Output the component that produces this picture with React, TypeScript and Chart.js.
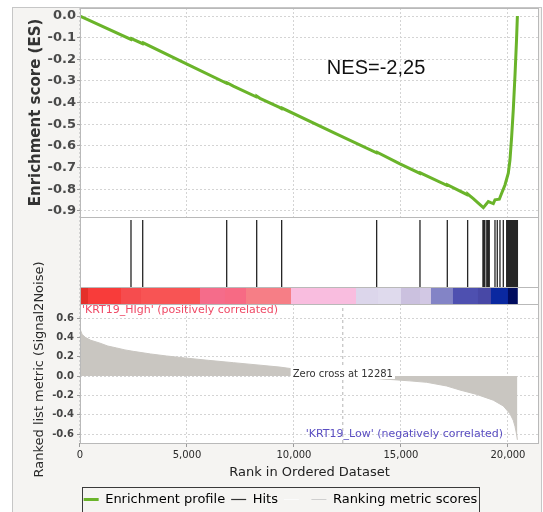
import React, { useEffect, useRef } from 'react';
import { Chart, registerables } from 'chart.js';

Chart.register(...registerables);

// ---------- data ----------
const nGenes = 20440;
const zeroCross = 12281;

const esRanks = [0, 2383, 2400, 2930, 2950, 5000, 6855, 6870, 7165, 8257, 8270, 8411, 9346, 9424, 9440, 12000, 13863, 13880, 14953, 15888, 15900, 17165, 17180, 18115, 18130, 18380, 18600, 18850, 19080, 19200, 19314, 19393, 19595, 19705, 19860, 20015, 20093, 20170, 20250, 20330, 20400, 20440];
const esValues = [0, -0.108, -0.104, -0.128, -0.124, -0.222, -0.311, -0.308, -0.324, -0.374, -0.371, -0.38, -0.423, -0.428, -0.425, -0.545, -0.632, -0.629, -0.683, -0.727, -0.724, -0.783, -0.78, -0.826, -0.823, -0.843, -0.863, -0.885, -0.857, -0.862, -0.866, -0.849, -0.846, -0.818, -0.78, -0.726, -0.665, -0.56, -0.43, -0.27, -0.11, 0];

const hitRanks = [2383, 2930, 6855, 8257, 9424, 13863, 15888, 17165, 18115, 18830, 18860, 18890, 18920, 19010, 19040, 19070, 19100, 19126, 19393, 19500, 19626, 19782, 19940, 19970, 20000, 20030, 20060, 20090, 20120, 20150, 20180, 20210, 20240, 20270, 20300, 20330, 20360, 20390, 20420, 20440];

const metricRanks = [0, 30, 100, 250, 500, 935, 1300, 1713, 2100, 2492, 3300, 4050, 4984, 6000, 7165, 8411, 9346, 9813, 10500, 11300, 11900, 12281, 12700, 13500, 14642, 15400, 16200, 17134, 17757, 18536, 19313, 19782, 20093, 20250, 20327, 20400, 20440];
const metricValues = [0.52, 0.47, 0.43, 0.4, 0.37, 0.34, 0.31, 0.29, 0.27, 0.255, 0.228, 0.207, 0.185, 0.162, 0.138, 0.112, 0.092, 0.078, 0.058, 0.036, 0.015, 0, -0.01, -0.022, -0.038, -0.05, -0.065, -0.103, -0.145, -0.19, -0.25, -0.31, -0.39, -0.46, -0.52, -0.6, -0.66];

const colorBarEdges = [0, 374, 1916, 2850, 5607, 6776, 7757, 9860, 12897, 13925, 15000, 15888, 16402, 17430, 18598, 19206, 20000, 20440];
const colorBarColors = ['#e4302a', '#f83c3a', '#f64c4e', '#f85454', '#f56c8a', '#f76a84', '#f67e86', '#f9bddf', '#dcd6eb', '#dfdaed', '#cbc1df', '#d2c8e4', '#8384c6', '#4e50b0', '#4848a6', '#0a28a0', '#000c5e'];

const xTicks = [0, 5000, 10000, 15000, 20000];
const esTicks = [0, -0.1, -0.2, -0.3, -0.4, -0.5, -0.6, -0.7, -0.8, -0.9];
const metricTicks = [0.6, 0.4, 0.2, 0, -0.2, -0.4, -0.6];

const nesText = 'NES=-2,25';
const posText = "'KRT19_HIgh' (positively correlated)";
const negText = "'KRT19_Low' (negatively correlated)";
const zeroText = 'Zero cross at 12281';
const esTitle = 'Enrichment score (ES)';
const metricTitle = 'Ranked list metric (Signal2Noise)';
const xTitle = 'Rank in Ordered Dataset';
const legendTexts = ['Enrichment profile', 'Hits', '', 'Ranking metric scores'];

// ---------- styles / layout ----------
const GREEN = '#6ab42a';
const METRIC_GRAY = '#c9c6c1';
const FONT = 'DejaVu Sans';
const legendColors = [GREEN, '#333333', '#fbfbfb', '#cfcfcf'];
const legendWidths = [3, 1.2, 1, 1];

const X_MAX = 21450;
const ES_MIN = -0.928;
const ES_MAX = 0.037;
const RANK_MIN = -0.693;
const RANK_MAX = 0.745;
const HIT_LOW = 0.195;
const HIT_HIGH = 0.966;

const fmt1 = (v: any) => {
  const n = Number(v);
  return Math.abs(n) < 1e-9 ? '0.0' : n.toFixed(1);
};

const fixLeft = (s: any) => {
  s.width = 58;
  s.paddingTop = 0;
  s.paddingBottom = 0;
};

export default function App() {
  const ref = useRef<HTMLCanvasElement>(null);

  useEffect(() => {
    const canvas = ref.current;
    if (!canvas) return;

    const hitData: any[] = [];
    hitRanks.forEach((r) => {
      hitData.push({ x: r, y: HIT_LOW }, { x: r, y: HIT_HIGH }, { x: r, y: null });
    });

    const decor = {
      id: 'gseaDecor',
      beforeDraw(chart: any) {
        const { ctx, chartArea: ca } = chart;
        ctx.save();
        ctx.fillStyle = '#ffffff';
        ctx.fillRect(0, 0, chart.width, chart.height);
        ctx.fillStyle = '#f5f4f2';
        ctx.fillRect(12, 7, 530, 520);
        ctx.strokeStyle = '#c6c6c6';
        ctx.lineWidth = 1;
        ctx.strokeRect(12.5, 7.5, 529, 520);
        ctx.fillStyle = '#ffffff';
        ctx.fillRect(ca.left, ca.top, ca.right - ca.left, ca.bottom - ca.top);
        ctx.restore();
      },
      beforeDatasetsDraw(chart: any) {
        const { ctx, chartArea: ca, scales } = chart;
        const x = scales.x;
        const yh = scales.yHits;
        ctx.save();
        ctx.fillStyle = '#ffffff';
        ctx.fillRect(ca.left, yh.top, ca.right - ca.left, yh.bottom - yh.top);
        const yTop = yh.getPixelForValue(HIT_LOW);
        const yBot = yh.getPixelForValue(0);
        for (let i = 0; i < colorBarColors.length; i++) {
          const x0 = x.getPixelForValue(colorBarEdges[i]);
          const x1 = x.getPixelForValue(colorBarEdges[i + 1]);
          ctx.fillStyle = colorBarColors[i];
          ctx.fillRect(x0, yTop, x1 - x0 + 0.4, yBot - yTop);
        }
        ctx.restore();
      },
      afterDatasetsDraw(chart: any) {
        const { ctx, chartArea: ca, scales } = chart;
        const x = scales.x;
        const yES = scales.yES;
        const yh = scales.yHits;
        const yr = scales.yRank;
        ctx.save();
        // panel borders
        ctx.strokeStyle = '#b9b9b9';
        ctx.lineWidth = 1;
        const L = Math.round(ca.left) + 0.5;
        const R = Math.round(ca.right) - 0.5;
        [yES, yh, yr].forEach((s: any) => {
          ctx.strokeRect(L, Math.round(s.top) + 0.5, R - L, Math.round(s.bottom) - Math.round(s.top));
        });
        const cbTop = Math.round(yh.getPixelForValue(HIT_LOW)) + 0.5;
        ctx.beginPath();
        ctx.moveTo(L, cbTop);
        ctx.lineTo(R, cbTop);
        ctx.stroke();

        // correlation labels
        ctx.textBaseline = 'middle';
        ctx.font = `11px "${FONT}"`;
        ctx.fillStyle = '#ef4a66';
        ctx.textAlign = 'left';
        ctx.fillText(posText, ca.left + 2, yr.top + 6.5);
        ctx.fillStyle = '#5a4ec2';
        ctx.textAlign = 'right';
        ctx.fillText(negText, ca.right - 36, yr.bottom - 9);

        // zero cross label
        ctx.font = `10px "${FONT}"`;
        const zx = x.getPixelForValue(zeroCross);
        const zy = yr.getPixelForValue(0) - 2;
        const w = ctx.measureText(zeroText).width;
        ctx.fillStyle = '#ffffff';
        ctx.fillRect(zx - w / 2 - 2, zy - 6, w + 4, 11);
        ctx.fillStyle = '#333333';
        ctx.textAlign = 'center';
        ctx.fillText(zeroText, zx, zy);

        // NES
        ctx.font = '20px "Liberation Sans", Arial, sans-serif';
        ctx.fillStyle = '#111111';
        ctx.textAlign = 'center';
        ctx.fillText(nesText, ca.left + 0.645 * (ca.right - ca.left), yES.getPixelForValue(-0.24));

        // metric axis title
        ctx.save();
        ctx.translate(yr.left + 17.5, (yr.top + yr.bottom) / 2 - 4);
        ctx.rotate(-Math.PI / 2);
        ctx.font = `13px "${FONT}"`;
        ctx.fillStyle = '#2a2a2a';
        ctx.textAlign = 'center';
        ctx.fillText(metricTitle, 0, 0);
        ctx.restore();
        ctx.restore();
      },
      afterDraw(chart: any) {
        const { ctx } = chart;
        const hb = chart.legend && chart.legend.legendHitBoxes;
        if (!hb || !hb.length) return;
        const l = Math.min(...hb.map((h: any) => h.left)) - 2;
        const r = Math.max(...hb.map((h: any) => h.left + h.width)) + 1;
        const t = hb[0].top - 6;
        ctx.save();
        ctx.strokeStyle = '#3a3a3a';
        ctx.lineWidth = 1;
        ctx.strokeRect(Math.round(l) + 0.5, Math.round(t) + 0.5, Math.round(r - l), 25);
        ctx.restore();
      },
    };

    const gridDash = { display: false, dash: [2, 2] };

    const chart = new Chart(canvas, {
      type: 'line',
      data: {
        datasets: [
          {
            label: legendTexts[0],
            data: esRanks.map((r, i) => ({ x: r, y: esValues[i] })),
            yAxisID: 'yES',
            borderColor: GREEN,
            borderWidth: 3,
            pointRadius: 0,
            tension: 0,
            fill: false,
          },
          {
            label: legendTexts[1],
            data: hitData,
            yAxisID: 'yHits',
            borderColor: '#262626',
            borderWidth: 1.3,
            pointRadius: 0,
            spanGaps: false,
            fill: false,
          },
          {
            label: legendTexts[3],
            data: metricRanks.map((r, i) => ({ x: r, y: metricValues[i] })),
            yAxisID: 'yRank',
            borderColor: METRIC_GRAY,
            backgroundColor: METRIC_GRAY,
            borderWidth: 1,
            pointRadius: 0,
            fill: 'origin',
          },
          {
            label: 'zero cross',
            data: [
              { x: zeroCross, y: RANK_MIN },
              { x: zeroCross, y: RANK_MAX },
            ],
            yAxisID: 'yRank',
            borderColor: '#b4b4b4',
            borderDash: [3, 3],
            borderWidth: 1,
            pointRadius: 0,
            fill: false,
          },
        ],
      } as any,
      options: {
        responsive: false,
        animation: false,
        devicePixelRatio: 1,
        events: [],
        layout: { padding: { left: 22, right: 4, top: 8, bottom: 0 } },
        plugins: {
          tooltip: { enabled: false },
          legend: {
            display: true,
            position: 'bottom',
            labels: {
              usePointStyle: true,
              pointStyleWidth: 15,
              boxHeight: 13,
              padding: 6,
              color: '#222222',
              font: { family: FONT, size: 13 },
              generateLabels: () =>
                legendTexts.map((t, i) => ({
                  text: t,
                  pointStyle: 'line',
                  strokeStyle: legendColors[i],
                  fillStyle: legendColors[i],
                  lineWidth: legendWidths[i],
                  hidden: false,
                  datasetIndex: i,
                })),
            },
          },
        },
        scales: {
          x: {
            type: 'linear',
            min: 0,
            max: X_MAX,
            afterBuildTicks: (s: any) => {
              s.ticks = xTicks.map((v) => ({ value: v }));
            },
            afterFit: (s: any) => {
              s.height = 44;
              s.paddingLeft = 0;
              s.paddingRight = 0;
            },
            ticks: {
              autoSkip: false,
              maxRotation: 0,
              padding: 2,
              color: '#2a2a2a',
              font: { family: FONT, size: 10 },
              callback: (v: any) => Number(v).toLocaleString('en-US'),
            },
            grid: { color: '#d4d4d4', tickLength: 4, tickColor: '#9a9a9a' },
            border: gridDash,
            title: {
              display: true,
              text: xTitle,
              color: '#222222',
              font: { family: FONT, size: 13 },
              padding: { top: 0, bottom: 7 },
            },
          },
          yRank: {
            type: 'linear',
            position: 'left',
            stack: 'gsea',
            stackWeight: 139,
            weight: 1,
            min: RANK_MIN,
            max: RANK_MAX,
            afterBuildTicks: (s: any) => {
              s.ticks = metricTicks.map((v) => ({ value: v }));
            },
            afterFit: fixLeft,
            ticks: {
              autoSkip: false,
              padding: 3,
              color: '#444444',
              font: { family: FONT, size: 10, weight: 'bold' },
              callback: fmt1,
            },
            grid: { color: '#d4d4d4', tickLength: 3, tickColor: '#9a9a9a' },
            border: gridDash,
          },
          yHits: {
            type: 'linear',
            position: 'left',
            stack: 'gsea',
            stackWeight: 87,
            weight: 2,
            min: 0,
            max: 1,
            afterFit: fixLeft,
            ticks: { display: false },
            grid: { display: false },
            border: { display: false },
          },
          yES: {
            type: 'linear',
            position: 'left',
            stack: 'gsea',
            stackWeight: 209,
            weight: 3,
            min: ES_MIN,
            max: ES_MAX,
            afterBuildTicks: (s: any) => {
              s.ticks = esTicks.map((v) => ({ value: v }));
            },
            afterFit: fixLeft,
            ticks: {
              autoSkip: false,
              padding: 1,
              color: '#4a4a4a',
              font: { family: FONT, size: 13, weight: 'bold' },
              callback: fmt1,
            },
            grid: { color: '#d4d4d4', tickLength: 3, tickColor: '#9a9a9a' },
            border: gridDash,
            title: {
              display: true,
              text: esTitle,
              color: '#333333',
              font: { family: FONT, size: 15, weight: 'bold' },
              padding: { top: 5, bottom: 0 },
            },
          },
        },
      } as any,
      plugins: [decor],
    });

    return () => chart.destroy();
  }, []);

  return (
    <div style={{ position: 'absolute', left: 0, top: 0, width: 543, height: 512, overflow: 'hidden', background: '#ffffff' }}>
      <canvas ref={ref} width={543} height={516} style={{ display: 'block', width: 543, height: 516 }} />
    </div>
  );
}
